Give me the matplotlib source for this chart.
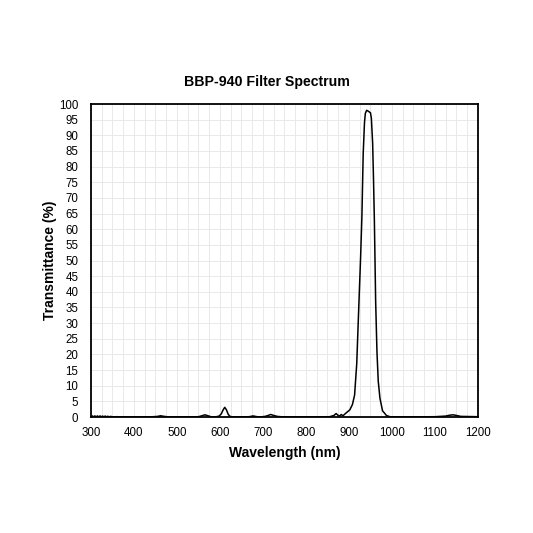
import matplotlib
matplotlib.use("Agg")
import matplotlib.pyplot as plt
from matplotlib.ticker import MultipleLocator

plt.rcParams['font.family'] = ['Liberation Sans', 'DejaVu Sans']

wavelength = [300, 303, 306, 309, 312, 315, 318, 321, 324, 327, 330, 333, 336, 339, 342, 346,
              350, 360, 370, 400, 430, 445, 455, 462, 470, 480, 500, 530, 550, 558, 565, 572,
              580, 590, 598, 603, 607, 611, 615, 619, 623, 630, 650, 668, 677, 686, 695, 705,
              712, 718, 725, 733, 745, 770, 800, 830, 855, 865, 870, 874, 878, 882, 886, 890,
              895, 902, 908, 913, 918, 923, 927, 930, 933, 936, 938, 941, 945, 950, 952, 955,
              957, 959, 962, 965, 968, 972, 978, 987, 995, 1010, 1050, 1100, 1125, 1135,
              1142, 1150, 1160, 1200]
transmittance = [0.1, 0.35, 0.05, 0.35, 0.05, 0.35, 0.05, 0.35, 0.05, 0.3, 0.05, 0.3, 0.05,
                 0.25, 0.05, 0.2, 0.05, 0.1, 0.05, 0.05, 0.05, 0.1, 0.2, 0.4, 0.2, 0.05, 0.05,
                 0.05, 0.1, 0.4, 0.7, 0.4, 0.05, 0.05, 0.3, 1.0, 2.2, 3.1, 2.3, 0.9, 0.2, 0.05,
                 0.05, 0.1, 0.35, 0.1, 0.05, 0.2, 0.5, 0.8, 0.5, 0.2, 0.05, 0.05, 0.05, 0.05,
                 0.1, 0.5, 1.1, 0.6, 0.3, 0.8, 0.4, 0.9, 1.5, 2.3, 4.0, 7.0, 17.0, 36.0, 51.0,
                 64.0, 84.0, 94.0, 97.0, 98.0, 97.7, 97.2, 95.5, 87.5, 76.0, 63.0, 37.0, 21.0,
                 11.5, 6.0, 2.0, 0.5, 0.1, 0.05, 0.05, 0.1, 0.3, 0.6, 0.7, 0.5, 0.2, 0.1]

x_ticks = [300, 400, 500, 600, 700, 800, 900, 1000, 1100, 1200]
y_ticks = list(range(0, 101, 5))

fig = plt.figure(figsize=(5.33, 5.33), dpi=100)
ax = fig.add_axes([0.1707, 0.2176, 0.7261, 0.5872])

ax.plot(wavelength, transmittance, color='black', linewidth=1.1)

ax.set_xlim(300, 1200)
ax.set_ylim(0, 100)
ax.set_xticks(x_ticks)
ax.set_yticks(y_ticks)
ax.xaxis.set_minor_locator(MultipleLocator(25))
ax.grid(True, which='major', color='#e9e9e9', linewidth=0.7)
ax.grid(True, which='minor', axis='x', color='#e9e9e9', linewidth=0.7)
ax.set_axisbelow(True)
ax.tick_params(axis='both', which='both', length=0, labelsize=8.3)
ax.tick_params(axis='y', pad=9)
ax.tick_params(axis='x', pad=7)
for s in ax.spines.values():
    s.set_linewidth(1.3)
    s.set_color('black')

ax.set_xlabel('Wavelength (nm)', fontsize=10, fontweight='bold', labelpad=5)
ax.set_ylabel('Transmittance (%)', fontsize=10, fontweight='bold', labelpad=1.5)
fig.text(0.5 + 0.0, 1 - 82 / 533, 'BBP-940 Filter Spectrum', fontsize=10.2,
         fontweight='bold', ha='center', va='center')

fig.savefig('out.png', dpi=100)
